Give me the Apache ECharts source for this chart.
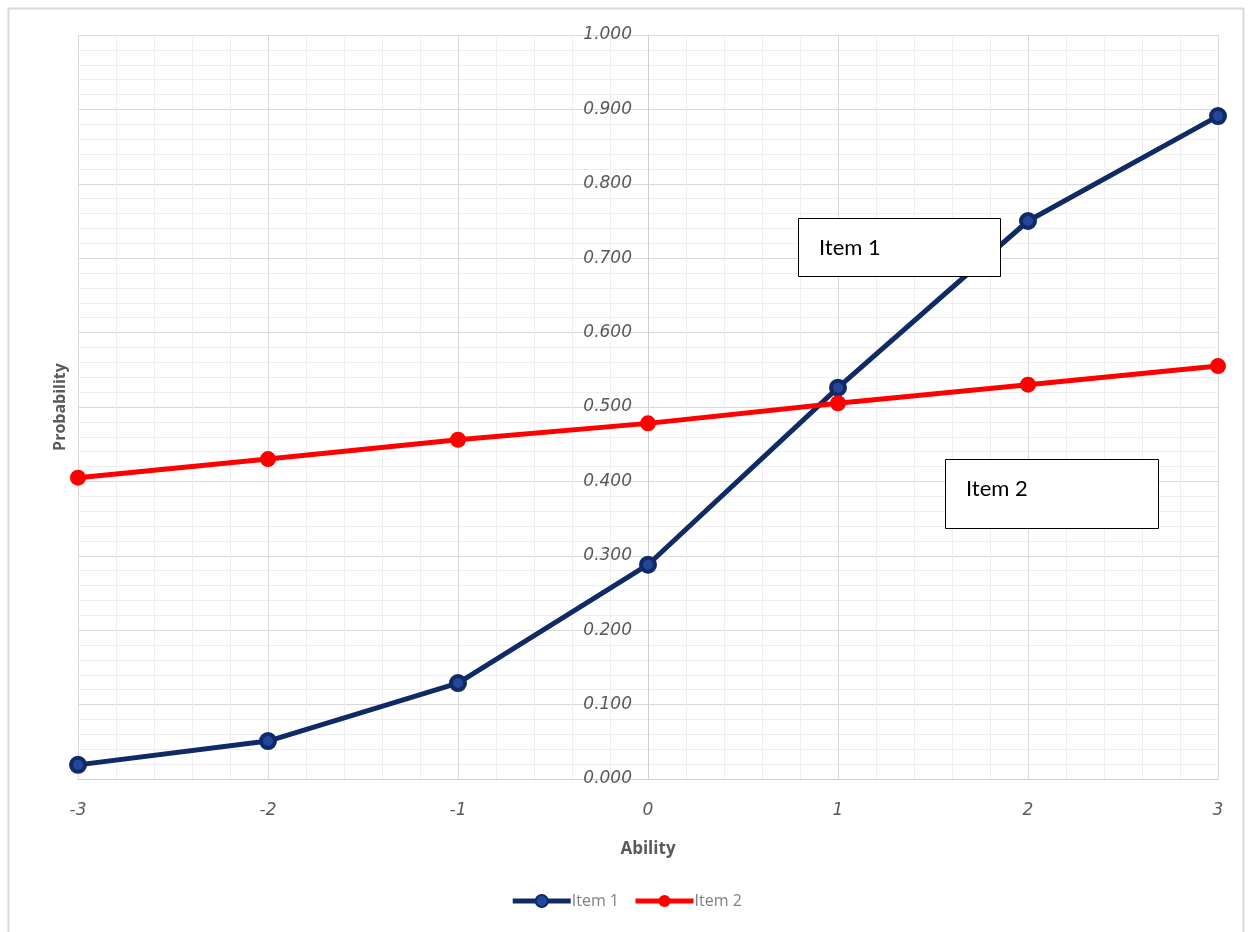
<!DOCTYPE html>
<html>
<head>
<meta charset="utf-8">
<script src="https://cdn.jsdelivr.net/npm/echarts@6/dist/echarts.min.js"></script>
<style>html,body{margin:0;padding:0;background:#fff}#c{width:1252px;height:932px}</style>
</head>
<body>
<div id="c"></div>
<script>
const abilities = [-3, -2, -1, 0, 1, 2, 3];
const item1 = [0.019, 0.051, 0.129, 0.288, 0.526, 0.750, 0.891];
const item2 = [0.405, 0.430, 0.456, 0.478, 0.505, 0.530, 0.555];
const seriesNames = ['Item 1', 'Item 2'];
const xTitle = 'Ability';
const yTitle = 'Probability';

const chart = echarts.init(document.getElementById('c'));
const toPairs = arr => abilities.map((a, i) => [a, arr[i]]);
const labelStyle = { color: '#595959', fontStyle: 'italic', fontSize: 17, fontFamily: 'DejaVu Sans' };
chart.setOption({
  animation: false,
  backgroundColor: '#fff',
  grid: { left: 78, right: 34, top: 35, bottom: 153, containLabel: false },
  xAxis: {
    type: 'value', min: -3, max: 3, interval: 1,
    name: xTitle, nameLocation: 'middle', nameGap: 62,
    nameTextStyle: { color: '#595959', fontWeight: 'bold', fontSize: 17, fontFamily: 'Open Sans' },
    axisLine: { show: true, onZero: false, lineStyle: { color: '#d0d0d0', width: 1 } },
    axisTick: { show: false },
    axisLabel: Object.assign({ margin: 23 }, labelStyle),
    splitLine: { show: true, lineStyle: { color: '#d9d9d9', width: 1 } },
    minorTick: { show: false, splitNumber: 5 },
    minorSplitLine: { show: true, lineStyle: { color: '#eeeeee', width: 1 } }
  },
  yAxis: {
    type: 'value', min: 0, max: 1, interval: 0.1,
    position: 'left', offset: -570,
    axisLine: { show: true, onZero: false, lineStyle: { color: '#d0d0d0', width: 1 } },
    axisTick: { show: false },
    axisLabel: Object.assign({ margin: 16, formatter: v => v.toFixed(3) }, labelStyle),
    splitLine: { show: true, lineStyle: { color: '#d9d9d9', width: 1 } },
    minorTick: { show: false, splitNumber: 5 },
    minorSplitLine: { show: true, lineStyle: { color: '#eeeeee', width: 1 } }
  },
  legend: {
    bottom: 18, left: 'center', itemWidth: 58, itemHeight: 15, itemGap: 14,
    lineStyle: { width: 5 },
    textStyle: { color: '#7f7f7f', fontSize: 16, fontFamily: 'Open Sans', padding: [0, 0, 0, -4] },
    data: seriesNames
  },
  series: [
    {
      name: seriesNames[0], type: 'line', data: toPairs(item1),
      symbol: 'circle', symbolSize: 14,
      lineStyle: { color: '#0f2a64', width: 5 },
      itemStyle: { color: '#24479a', borderColor: '#0f2a64', borderWidth: 4 },
      z: 3
    },
    {
      name: seriesNames[1], type: 'line', data: toPairs(item2),
      symbol: 'circle', symbolSize: 16,
      lineStyle: { color: '#ff0000', width: 5 },
      itemStyle: { color: '#ff0000' },
      z: 4
    }
  ],
  graphic: [
    { type: 'rect', shape: { x: 8.5, y: 8.5, width: 1235, height: 930 },
      style: { fill: 'none', stroke: '#d9d9d9', lineWidth: 2 }, silent: true, z: -1 },
    { type: 'text', x: 60, y: 407, rotation: Math.PI / 2, origin: [0, 0],
      style: { text: yTitle, fill: '#595959', font: 'bold 16px "Open Sans"', align: 'center', verticalAlign: 'middle' } },
    { type: 'rect', shape: { x: 798.5, y: 218.5, width: 202, height: 58 },
      style: { fill: '#fff', stroke: '#000', lineWidth: 1 }, z: 10 },
    { type: 'text', x: 819, y: 248, z: 11,
      style: { text: seriesNames[0], fill: '#000', font: '22px Lato', verticalAlign: 'middle' } },
    { type: 'rect', shape: { x: 945.5, y: 459.5, width: 213, height: 69 },
      style: { fill: '#fff', stroke: '#000', lineWidth: 1 }, z: 10 },
    { type: 'text', x: 966, y: 489, z: 11,
      style: { text: seriesNames[1], fill: '#000', font: '22px Lato', verticalAlign: 'middle' } }
  ]
});
</script>
</body>
</html>
